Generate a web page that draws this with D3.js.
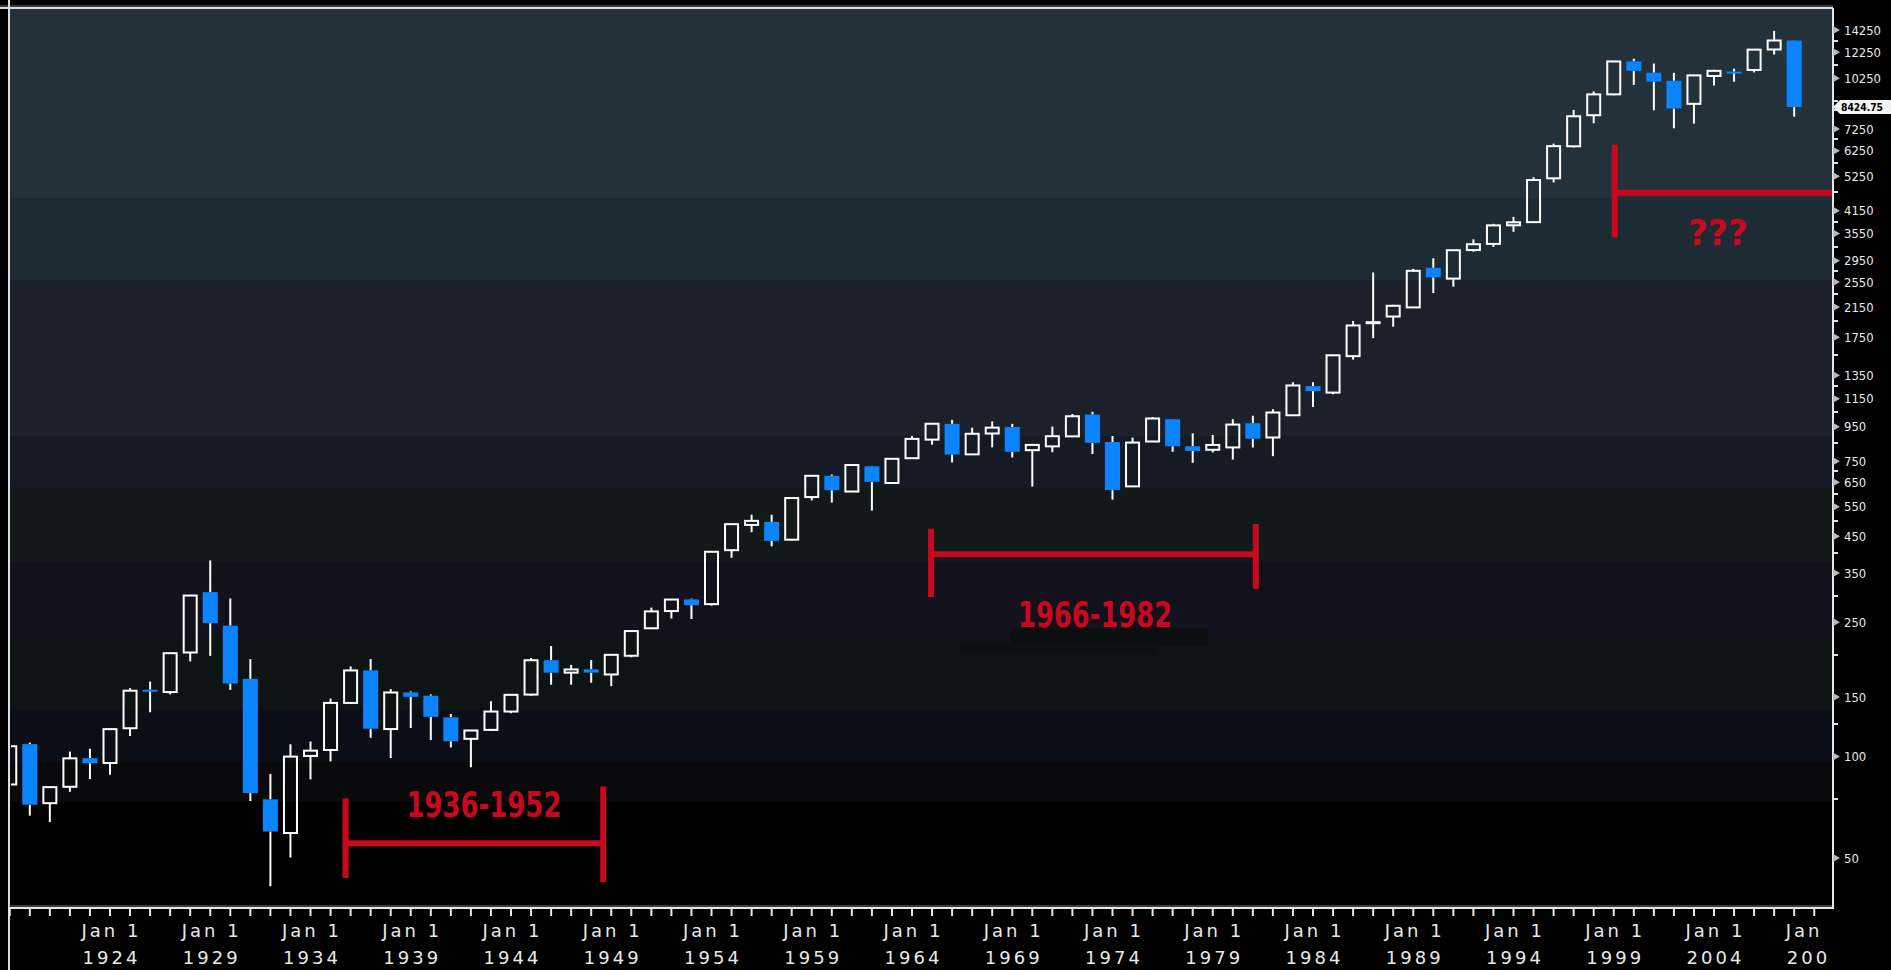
<!DOCTYPE html>
<html>
<head>
<meta charset="utf-8">
<script src="https://cdn.jsdelivr.net/npm/d3@7"></script>
<style>
html, body { margin: 0; padding: 0; background: #000; overflow: hidden; }
svg { display: block; }
</style>
</head>
<body>
<div id="chart"></div>
<script>
// yearly candles, Dow Jones Industrial Average
const years = d3.range(1919, 2009);
const opens = [82.6, 108.8, 72.7, 81.3, 98.8, 95.65, 121.25, 157.7, 155.2, 203.35,
	307.01, 244.2, 169.84, 74.62, 59.29, 100.36, 104.51, 144.13, 179.9, 120.57,
	154.8, 151.4, 130.6, 112.8, 119.9, 135.9, 152.58, 192.91, 177.2, 181.16,
	175.03, 198.89, 239.92, 269.86, 292.14, 282.89, 408.89, 485.78, 496.03, 439.27,
	587.59, 679.06, 610.25, 724.71, 646.79, 766.08, 869.78, 968.54, 786.41, 906.84,
	947.73, 809.2, 830.57, 889.3, 1031.68, 855.32, 632.04, 858.71, 999.75, 831.17,
	811.42, 824.57, 972.78, 882.52, 1027.04, 1252.74, 1198.87, 1537.73, 1927.31, 2015.25,
	2144.64, 2810.15, 2610.64, 3172.41, 3309.22, 3756.6, 3838.48, 5177.45, 6442.49, 7965.04,
	9184.27, 11501.85, 10646.15, 10073.4, 8607.52, 10409.85, 10729.43, 10847.41, 12474.52, 13261.82];
const highs = [119.6, 109.9, 81.5, 103.43, 105.38, 120.51, 159.39, 166.64, 202.4, 300.0,
	381.17, 294.07, 194.36, 88.78, 108.67, 110.74, 148.44, 184.9, 194.4, 158.41,
	155.92, 152.8, 133.59, 119.71, 145.82, 152.53, 195.82, 212.5, 186.85, 193.16,
	200.52, 235.47, 276.37, 292.0, 293.79, 404.39, 488.4, 521.05, 520.77, 583.65,
	679.36, 685.47, 734.91, 726.01, 767.21, 891.71, 969.26, 995.15, 943.08, 985.21,
	968.85, 842.0, 950.82, 1036.27, 1051.7, 891.66, 881.81, 1014.79, 999.75, 907.74,
	897.61, 1000.17, 1024.05, 1070.55, 1287.2, 1286.64, 1553.1, 1955.57, 2722.42, 2183.5,
	2791.41, 2999.75, 3168.83, 3413.21, 3794.33, 3978.36, 5216.47, 6560.91, 8259.31, 9374.27,
	11497.12, 11722.98, 11337.92, 10635.25, 10453.92, 10854.54, 10940.55, 12510.57, 14164.53, 13279.54];
const lows = [79.15, 66.75, 63.9, 78.59, 85.76, 88.33, 115.0, 135.2, 152.73, 191.33,
	198.69, 157.51, 73.79, 41.22, 50.16, 85.51, 96.71, 143.11, 113.64, 98.95,
	121.44, 111.84, 106.34, 92.92, 119.26, 134.22, 151.35, 163.12, 163.21, 165.39,
	161.6, 196.81, 238.99, 256.35, 255.49, 279.87, 388.2, 462.35, 419.79, 436.89,
	574.46, 566.05, 610.25, 535.76, 646.79, 766.08, 840.59, 744.32, 786.41, 825.13,
	769.93, 631.16, 797.97, 889.15, 788.31, 577.6, 632.04, 858.71, 800.85, 742.12,
	796.67, 759.13, 824.01, 776.92, 1027.04, 1086.57, 1184.96, 1502.29, 1738.74, 1879.14,
	2144.64, 2365.1, 2470.3, 3136.58, 3241.95, 3593.35, 3832.08, 5032.94, 6391.69, 7539.07,
	9120.67, 9796.03, 8235.81, 7286.27, 7524.06, 9749.99, 10012.36, 10667.39, 12050.41, 7882.51];
const closes = [107.23, 71.95, 81.1, 98.73, 95.52, 120.51, 156.66, 157.2, 202.4, 300.0,
	248.48, 164.58, 77.9, 59.93, 99.9, 104.04, 144.13, 179.9, 120.85, 154.76,
	150.24, 131.13, 110.96, 119.4, 135.89, 152.32, 192.91, 177.2, 181.16, 177.3,
	200.13, 235.41, 269.23, 291.9, 280.9, 404.39, 488.4, 499.47, 435.69, 583.65,
	679.36, 615.89, 731.14, 652.1, 762.95, 874.13, 969.26, 785.69, 905.11, 943.75,
	800.36, 838.92, 890.2, 1020.02, 850.86, 616.24, 852.41, 1004.65, 831.17, 805.01,
	838.74, 963.99, 875.0, 1046.54, 1258.64, 1211.57, 1546.67, 1895.95, 1938.83, 2168.57,
	2753.2, 2633.66, 3168.83, 3301.11, 3754.09, 3834.44, 5117.12, 6448.27, 7908.25, 9181.43,
	11497.12, 10786.85, 10021.5, 8341.63, 10453.92, 10783.01, 10717.5, 12463.15, 13264.82, 8424.75];

const labelYears = [1924, 1929, 1934, 1939, 1944, 1949, 1954, 1959, 1964, 1969,
	1974, 1979, 1984, 1989, 1994, 1999, 2004, 2009];
const axisValues = [14250, 12250, 10250, 7250, 6250, 5250, 4150, 3550, 2950, 2550,
	2150, 1750, 1350, 1150, 950, 750, 650, 550, 450, 350, 250, 150, 100, 50];
const lastValue = 8424.75;

// hand-drawn period brackets
const spanLabels = ['1936-1952', '1966-1982', '???'];
const spanFrom = [1935.75, 1964.95, 1999.05];
const spanTo = [1948.6, 1981.15, 2010.5];
const spanLevel = [55.3, 398, 4695];
const spanFromTop = [75.1, 473, 6510];
const spanFromBottom = [43.6, 297, 3455];
const spanToTop = [81.5, 489, null];
const spanToBottom = [42.4, 314, null];
const spanTextYear = [1942.65, 1973.13, 2004.2];

const chartWidth = 1891, chartHeight = 970;
const plotLeft = 10, plotRight = 1832, plotTop = 8, plotBottom = 907;
const red = '#c9081f';
const blue = '#0a84ff';

const svg = d3.select('#chart')
	.append('svg')
	.attr('width', chartWidth)
	.attr('height', chartHeight)
	.style('background', '#000');

var xScale = d3.scaleLinear()
	.domain([1924, 2004])
	.range([110, 1714]);

var yScale = d3.scaleLog()
	.domain([50, 14250])
	.range([858, 30]);

// background bands
const bands = [[plotTop, 198, '#22313a'], [198, 280, '#1c2b34'], [280, 436, '#1b212b'],
	[436, 487, '#141b24'], [487, 562, '#121a19'], [562, 638, '#12111c'],
	[638, 709, '#0c1414'], [709, 762, '#0c0e17'], [762, 802, '#0a0a0d'], [802, plotBottom, '#000']];

svg.append('g')
	.selectAll('rect')
	.data(bands)
	.enter()
	.append('rect')
	.attr('x', plotLeft)
	.attr('width', plotRight - plotLeft)
	.attr('y', d => d[0])
	.attr('height', d => d[1] - d[0])
	.attr('fill', d => d[2]);

var defs = svg.append('defs');
defs.append('clipPath')
	.attr('id', 'plotClip')
	.append('rect')
	.attr('x', plotLeft + 1)
	.attr('y', plotTop)
	.attr('width', plotRight - plotLeft - 1)
	.attr('height', plotBottom - plotTop);

defs.append('clipPath')
	.attr('id', 'xClip')
	.append('rect')
	.attr('x', 0).attr('y', plotBottom)
	.attr('width', plotRight - 2)
	.attr('height', chartHeight - plotBottom);

var candles = years.map((yr, i) => ({year: yr, o: opens[i], h: highs[i], l: lows[i], c: closes[i]}));

var plot = svg.append('g').attr('clip-path', 'url(#plotClip)');

var groups = plot.selectAll('g')
	.data(candles)
	.enter()
	.append('g');

// wicks: above and below the body
groups.append('line')
	.attr('x1', d => xScale(d.year))
	.attr('x2', d => xScale(d.year))
	.attr('y1', d => yScale(d.h))
	.attr('y2', d => yScale(Math.max(d.o, d.c)))
	.attr('stroke', '#fff')
	.attr('stroke-width', 2);

groups.append('line')
	.attr('x1', d => xScale(d.year))
	.attr('x2', d => xScale(d.year))
	.attr('y1', d => yScale(Math.min(d.o, d.c)))
	.attr('y2', d => yScale(d.l))
	.attr('stroke', '#fff')
	.attr('stroke-width', 2);

groups.filter(d => d.c > d.o)
	.append('rect')
	.attr('x', d => xScale(d.year) - 6.5)
	.attr('width', 13)
	.attr('y', d => yScale(d.c))
	.attr('height', d => Math.max(1, yScale(d.o) - yScale(d.c)))
	.attr('fill', 'none')
	.attr('stroke', '#fff')
	.attr('stroke-width', 2);

groups.filter(d => d.c <= d.o)
	.append('rect')
	.attr('x', d => xScale(d.year) - 7.5)
	.attr('width', 15)
	.attr('y', d => yScale(d.o))
	.attr('height', d => Math.max(2, yScale(d.c) - yScale(d.o)))
	.attr('fill', blue);

// faint patches behind the middle label
svg.append('rect').attr('x', 1011).attr('y', 628).attr('width', 197).attr('height', 17).attr('fill', '#0b0f0f');
svg.append('rect').attr('x', 960).attr('y', 645).attr('width', 195).attr('height', 9).attr('fill', '#0f0f16');

// red brackets
var spans = spanLabels.map((s, i) => ({label: s, i: i}));
var ann = svg.append('g').attr('clip-path', 'url(#plotClip)');

spans.forEach(s => {
	let i = s.i;
	let x0 = xScale(spanFrom[i]), x1 = xScale(spanTo[i]);
	ann.append('line')
		.attr('x1', x0).attr('x2', x1)
		.attr('y1', yScale(spanLevel[i])).attr('y2', yScale(spanLevel[i]))
		.attr('stroke', red).attr('stroke-width', 6);
	ann.append('line')
		.attr('x1', x0).attr('x2', x0)
		.attr('y1', yScale(spanFromTop[i])).attr('y2', yScale(spanFromBottom[i]))
		.attr('stroke', red).attr('stroke-width', 6);
	if (spanToTop[i] != null) {
		ann.append('line')
			.attr('x1', x1).attr('x2', x1)
			.attr('y1', yScale(spanToTop[i])).attr('y2', yScale(spanToBottom[i]))
			.attr('stroke', red).attr('stroke-width', 6);
	}
});

const textOffsets = [-26, 73, 52];
const textWidths = [155, 154, 60];
ann.selectAll('text')
	.data(spans)
	.enter()
	.append('text')
	.attr('x', d => xScale(spanTextYear[d.i]) - textWidths[d.i] / 2)
	.attr('y', d => yScale(spanLevel[d.i]) + textOffsets[d.i])
	.attr('textLength', d => textWidths[d.i])
	.attr('lengthAdjust', 'spacingAndGlyphs')
	.attr('font-family', '"Liberation Sans Narrow", "DejaVu Sans Condensed", sans-serif')
	.attr('font-weight', 'bold')
	.attr('font-size', 35)
	.attr('fill', red)
	.text(d => d.label);

// frame
svg.append('line').attr('x1', 0).attr('x2', plotRight + 1).attr('y1', 6).attr('y2', 6).attr('stroke', '#777').attr('stroke-width', 1);
svg.append('line').attr('x1', 0).attr('x2', plotRight + 1).attr('y1', 8).attr('y2', 8).attr('stroke', '#ddd').attr('stroke-width', 2);
svg.append('line').attr('x1', plotLeft - 1).attr('x2', plotLeft - 1).attr('y1', 0).attr('y2', chartHeight).attr('stroke', '#ddd').attr('stroke-width', 2);
svg.append('line').attr('x1', plotLeft - 1).attr('x2', plotRight + 1).attr('y1', plotBottom - 1).attr('y2', plotBottom - 1).attr('stroke', '#777').attr('stroke-width', 1);
svg.append('line').attr('x1', plotLeft - 1).attr('x2', plotRight + 2).attr('y1', plotBottom + 1).attr('y2', plotBottom + 1).attr('stroke', '#e8e8e8').attr('stroke-width', 2);
svg.append('line').attr('x1', plotRight + 1).attr('x2', plotRight + 1).attr('y1', 8).attr('y2', plotBottom + 2).attr('stroke', '#e8e8e8').attr('stroke-width', 2);

// x axis
var xAxis = svg.append('g');
xAxis.selectAll('line')
	.data(d3.range(1919, 2010))
	.enter()
	.append('line')
	.attr('x1', d => xScale(d)).attr('x2', d => xScale(d))
	.attr('y1', plotBottom + 1).attr('y2', plotBottom + 9)
	.attr('stroke', '#e8e8e8').attr('stroke-width', 2);

var xLabels = svg.append('g')
	.attr('clip-path', 'url(#xClip)')
	.attr('font-family', '"DejaVu Sans", sans-serif')
	.attr('font-size', 18)
	.attr('fill', '#e8e8e8')
	.attr('text-anchor', 'middle')
	.style('letter-spacing', '3px');

xLabels.selectAll('.m')
	.data(labelYears)
	.enter()
	.append('text')
	.attr('class', 'm')
	.attr('x', d => xScale(d) + 1.5)
	.attr('y', 937)
	.text('Jan 1');

xLabels.selectAll('.yr')
	.data(labelYears)
	.enter()
	.append('text')
	.attr('class', 'yr')
	.attr('x', d => xScale(d) + 1.5)
	.attr('y', 964)
	.text(d => d);

// y axis on the right
var minor = [];
for (let i = 0; i < axisValues.length - 1; i++) {
	minor.push((axisValues[i] + axisValues[i + 1]) / 2);
}
minor.push(8250);

var yAxis = svg.append('g');
yAxis.selectAll('.minor')
	.data(minor)
	.enter()
	.append('line')
	.attr('class', 'minor')
	.attr('x1', plotRight + 2).attr('x2', plotRight + 6)
	.attr('y1', d => Math.round(yScale(d))).attr('y2', d => Math.round(yScale(d)))
	.attr('stroke', '#ddd').attr('stroke-width', 2);

yAxis.selectAll('path')
	.data(axisValues)
	.enter()
	.append('path')
	.attr('d', d => {
		let y = yScale(d);
		return `M${plotRight + 1},${y - 4} L${plotRight + 8},${y} L${plotRight + 1},${y + 4} Z`;
	})
	.attr('fill', '#bbb');

yAxis.selectAll('text')
	.data(axisValues)
	.enter()
	.append('text')
	.attr('x', plotRight + 12)
	.attr('y', d => yScale(d))
	.attr('dy', '0.36em')
	.attr('font-family', '"DejaVu Sans", sans-serif')
	.attr('font-size', 13)
	.attr('textLength', d => String(d).length * 7.4)
	.attr('lengthAdjust', 'spacingAndGlyphs')
	.attr('fill', '#e8e8e8')
	.text(d => d);

// last price marker
var py = yScale(lastValue);
svg.append('path')
	.attr('d', `M${plotRight + 1},${py} L${plotRight + 8},${py - 7} L${chartWidth},${py - 7} L${chartWidth},${py + 7} L${plotRight + 8},${py + 7} Z`)
	.attr('fill', '#f2f2f2');
svg.append('text')
	.attr('x', plotRight + 9)
	.attr('y', py)
	.attr('dy', '0.36em')
	.attr('font-family', '"DejaVu Sans", sans-serif')
	.attr('font-size', 11)
	.attr('font-weight', 'bold')
	.attr('textLength', 42)
	.attr('lengthAdjust', 'spacingAndGlyphs')
	.attr('fill', '#000')
	.text(d3.format('.2f')(lastValue));
</script>
</body>
</html>
